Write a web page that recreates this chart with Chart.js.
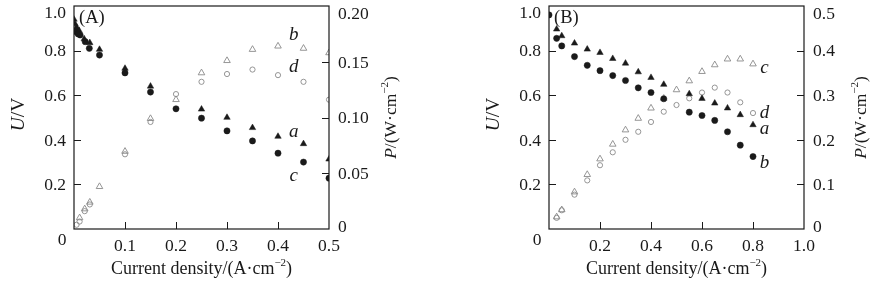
<!DOCTYPE html>
<html>
<head>
<meta charset="utf-8">
<script src="https://cdn.jsdelivr.net/npm/chart.js@4.4.0/dist/chart.umd.min.js"></script>
<style>
    html, body { margin: 0; padding: 0; background: #fff; }
    #wrap { position: relative; width: 883px; height: 289px; }
    #chartA { position: absolute; left: 0; top: 0; }
    #chartB { position: absolute; left: 441px; top: 0; }
</style>
</head>
<body>
<div id="wrap">
    <canvas id="chartA" width="441" height="289"></canvas>
    <canvas id="chartB" width="442" height="289"></canvas>
</div>
<script>
// ---- panel A data ----
const currentA_a = [0, 0.002, 0.005, 0.01, 0.02, 0.031, 0.05, 0.1, 0.15, 0.25, 0.3, 0.35, 0.4, 0.45, 0.5];
const voltageA_a = [0.94, 0.92, 0.905, 0.89, 0.852, 0.835, 0.805, 0.72, 0.64, 0.537, 0.50, 0.454, 0.415, 0.382, 0.313];
const currentA_c = [0.004, 0.008, 0.012, 0.022, 0.03, 0.05, 0.1, 0.15, 0.2, 0.25, 0.3, 0.35, 0.4, 0.45, 0.5];
const voltageA_c = [0.885, 0.875, 0.87, 0.84, 0.81, 0.78, 0.70, 0.614, 0.539, 0.497, 0.44, 0.395, 0.34, 0.30, 0.228];
const currentA_b = [0.011, 0.021, 0.031, 0.05, 0.1, 0.15, 0.2, 0.25, 0.3, 0.35, 0.4, 0.45, 0.5];
const powerA_b = [0.010, 0.018, 0.024, 0.038, 0.0696, 0.099, 0.116, 0.140, 0.151, 0.161, 0.164, 0.162, 0.158];
const currentA_d = [0.005, 0.011, 0.021, 0.031, 0.1, 0.15, 0.2, 0.25, 0.3, 0.35, 0.4, 0.45, 0.5];
const powerA_d = [0.0038, 0.0067, 0.016, 0.022, 0.067, 0.096, 0.121, 0.132, 0.139, 0.143, 0.138, 0.132, 0.116];

// ---- panel B data ----
const currentB_a = [0.03, 0.05, 0.1, 0.15, 0.2, 0.25, 0.3, 0.35, 0.4, 0.45, 0.55, 0.6, 0.65, 0.7, 0.75, 0.8];
const voltageB_a = [0.896, 0.866, 0.833, 0.806, 0.791, 0.764, 0.743, 0.704, 0.679, 0.648, 0.606, 0.585, 0.564, 0.542, 0.512, 0.467];
const currentB_b = [0, 0.03, 0.05, 0.1, 0.15, 0.2, 0.25, 0.3, 0.35, 0.4, 0.45, 0.55, 0.6, 0.65, 0.7, 0.75, 0.8];
const voltageB_b = [0.96, 0.855, 0.821, 0.773, 0.734, 0.710, 0.688, 0.666, 0.633, 0.612, 0.584, 0.524, 0.509, 0.487, 0.436, 0.376, 0.325];
const currentB_cd = [0.03, 0.05, 0.1, 0.15, 0.2, 0.25, 0.3, 0.35, 0.4, 0.45, 0.5, 0.55, 0.6, 0.65, 0.7, 0.75, 0.8];
const powerB_c = [0.027, 0.043, 0.083, 0.122, 0.157, 0.190, 0.222, 0.248, 0.271, 0.293, 0.312, 0.332, 0.353, 0.368, 0.381, 0.381, 0.370];
const powerB_d = [0.025, 0.042, 0.077, 0.109, 0.143, 0.172, 0.200, 0.218, 0.240, 0.263, 0.278, 0.293, 0.306, 0.317, 0.306, 0.284, 0.260];

// ---- tick values ----
const leftTicks = [0, 0.2, 0.4, 0.6, 0.8, 1.0];
const xTicksA = [0, 0.1, 0.2, 0.3, 0.4, 0.5];
const rightTicksA = [0, 0.05, 0.10, 0.15, 0.20];
const xTicksB = [0, 0.2, 0.4, 0.6, 0.8, 1.0];
const rightTicksB = [0, 0.1, 0.2, 0.3, 0.4, 0.5];

const FONT = '"Liberation Serif", "Times New Roman", serif';
const INK = '#1a1a1a';
const GREY = '#8a8a8a';

function pts(xs, ys) {
    return xs.map((x, i) => ({ x: x, y: ys[i] }));
}

function filledSet(data, shape, axis) {
    return {
        data: data, yAxisID: axis, pointStyle: shape,
        pointRadius: shape === 'triangle' ? 3.7 : 3.1,
        backgroundColor: INK, borderColor: INK, borderWidth: 0.5, clip: 0
    };
}

function hollowSet(data, shape, axis) {
    return {
        data: data, yAxisID: axis, pointStyle: shape,
        pointRadius: shape === 'triangle' ? 3.8 : 2.6,
        backgroundColor: 'rgba(0,0,0,0)', borderColor: GREY, borderWidth: 0.9, clip: 0
    };
}

function partFont(p, size) {
    const s = p.sup ? Math.round(size * 0.6) : size;
    return (p.italic ? 'italic ' : '') + s + 'px ' + FONT;
}

// draws a run of text pieces centred at (cx, cy)
function drawRich(ctx, parts, cx, cy, size, rotate) {
    ctx.save();
    ctx.translate(cx, cy);
    if (rotate) ctx.rotate(-Math.PI / 2);
    ctx.textAlign = 'left';
    ctx.textBaseline = 'alphabetic';
    ctx.fillStyle = INK;
    let total = 0;
    parts.forEach(p => { ctx.font = partFont(p, size); total += ctx.measureText(p.t).width; });
    let x = -total / 2;
    const base = size * 0.33;
    parts.forEach(p => {
        ctx.font = partFont(p, size);
        ctx.fillText(p.t, x, p.sup ? base - size * 0.42 : base);
        x += ctx.measureText(p.t).width;
    });
    ctx.restore();
}

function drawLabel(ctx, text, x, y, align, size, italic) {
    ctx.font = (italic ? 'italic ' : '') + size + 'px ' + FONT;
    ctx.textAlign = align;
    ctx.textBaseline = 'alphabetic';
    ctx.fillStyle = INK;
    ctx.fillText(text, x, y + size * 0.33);
}

const panelDecor = {
    id: 'panelDecor',
    afterDatasetsDraw(chart, args, o) {
        const ctx = chart.ctx;
        const area = chart.chartArea;
        const xs = chart.scales.x, ys = chart.scales.y, y2 = chart.scales.y2;
        const tick = 7, fs = 17.5;

        ctx.save();
        ctx.strokeStyle = INK;
        ctx.lineWidth = 1.2;
        ctx.strokeRect(area.left, area.top, area.right - area.left, area.bottom - area.top);

        ctx.lineWidth = 1;
        ctx.beginPath();
        o.xTicks.forEach(v => {
            if (v <= 0 || v >= o.xMax) return;
            const px = Math.round(xs.getPixelForValue(v)) + 0.5;
            ctx.moveTo(px, area.bottom); ctx.lineTo(px, area.bottom - tick);
        });
        o.leftTicks.forEach(v => {
            if (v <= 0 || v >= 1) return;
            const py = Math.round(ys.getPixelForValue(v)) + 0.5;
            ctx.moveTo(area.left, py); ctx.lineTo(area.left + tick, py);
        });
        o.rightTicks.forEach(v => {
            if (v <= 0 || v >= o.y2Max) return;
            const py = Math.round(y2.getPixelForValue(v)) + 0.5;
            ctx.moveTo(area.right, py); ctx.lineTo(area.right - tick, py);
        });
        ctx.stroke();

        // tick labels
        o.xTicks.forEach(v => {
            if (v === 0) return;
            drawLabel(ctx, v.toFixed(1), xs.getPixelForValue(v), area.bottom + 16, 'center', fs);
        });
        drawLabel(ctx, '0', area.left - 12, area.bottom + 10, 'center', fs);
        o.leftTicks.forEach(v => {
            if (v === 0) return;
            let py = ys.getPixelForValue(v);
            if (v === 1) py += 6;
            drawLabel(ctx, v.toFixed(1), area.left - 8, py, 'right', fs);
        });
        o.rightTicks.forEach(v => {
            let py = y2.getPixelForValue(v);
            if (v === o.y2Max) py += 7;
            if (v === 0) py -= 3;
            const txt = v === 0 ? '0' : v.toFixed(o.rightDigits);
            drawLabel(ctx, txt, area.right + 9, py, 'left', fs);
        });

        // axis titles
        const midY = (area.top + area.bottom) / 2;
        drawRich(ctx, [{ t: 'U', italic: true }, { t: '/V' }], area.left - 56, midY - 3, 19.5, true);
        drawRich(ctx, [{ t: 'P', italic: true }, { t: '/(W·cm' }, { t: '−2', sup: true }, { t: ')' }],
            area.right + o.rightTitleGap, midY, 17.5, true);
        drawRich(ctx, [{ t: 'Current density/(A·cm' }, { t: '−2', sup: true }, { t: ')' }],
            (area.left + area.right) / 2, area.bottom + 39, 18, false);

        // panel tag and curve letters
        drawLabel(ctx, o.tag, area.left + 5, area.top + 11, 'left', 18.5);
        o.letters.forEach(l => {
            drawLabel(ctx, l.t, xs.getPixelForValue(l.x), ys.getPixelForValue(l.y), 'center', 19, true);
        });
        ctx.restore();
    }
};

function makePanel(id, sets, p) {
    new Chart(document.getElementById(id), {
        type: 'scatter',
        data: { datasets: sets },
        options: {
            responsive: false,
            animation: false,
            events: [],
            layout: { padding: { top: 6, left: 0, right: 0, bottom: 0 } },
            plugins: { legend: { display: false }, tooltip: { enabled: false }, panelDecor: p },
            scales: {
                x: {
                    type: 'linear', min: 0, max: p.xMax,
                    grid: { display: false }, border: { display: false }, ticks: { display: false },
                    afterFit: s => { s.height = 60; }
                },
                y: {
                    position: 'left', min: 0, max: 1,
                    grid: { display: false }, border: { display: false }, ticks: { display: false },
                    afterFit: s => { s.width = p.leftSpace; }
                },
                y2: {
                    position: 'right', min: 0, max: p.y2Max,
                    grid: { display: false }, border: { display: false }, ticks: { display: false },
                    afterFit: s => { s.width = p.rightSpace; }
                }
            }
        },
        plugins: [panelDecor]
    });
}

makePanel('chartA', [
    filledSet(pts(currentA_a, voltageA_a), 'triangle', 'y'),
    filledSet(pts(currentA_c, voltageA_c), 'circle', 'y'),
    hollowSet(pts(currentA_b, powerA_b), 'triangle', 'y2'),
    hollowSet(pts(currentA_d, powerA_d), 'circle', 'y2')
], {
    xMax: 0.5, y2Max: 0.2, rightDigits: 2, leftSpace: 74, rightSpace: 112, rightTitleGap: 61,
    xTicks: xTicksA, leftTicks: leftTicks, rightTicks: rightTicksA, tag: '(A)',
    letters: [
        { t: 'b', x: 0.431, y: 0.875 },
        { t: 'd', x: 0.431, y: 0.73 },
        { t: 'a', x: 0.431, y: 0.44 },
        { t: 'c', x: 0.431, y: 0.245 }
    ]
});

makePanel('chartB', [
    filledSet(pts(currentB_a, voltageB_a), 'triangle', 'y'),
    filledSet(pts(currentB_b, voltageB_b), 'circle', 'y'),
    hollowSet(pts(currentB_cd, powerB_c), 'triangle', 'y2'),
    hollowSet(pts(currentB_cd, powerB_d), 'circle', 'y2')
], {
    xMax: 1.0, y2Max: 0.5, rightDigits: 1, leftSpace: 108, rightSpace: 79, rightTitleGap: 56,
    xTicks: xTicksB, leftTicks: leftTicks, rightTicks: rightTicksB, tag: '(B)',
    letters: [
        { t: 'c', x: 0.845, y: 0.727 },
        { t: 'd', x: 0.845, y: 0.526 },
        { t: 'a', x: 0.845, y: 0.454 },
        { t: 'b', x: 0.845, y: 0.302 }
    ]
});
</script>
</body>
</html>
